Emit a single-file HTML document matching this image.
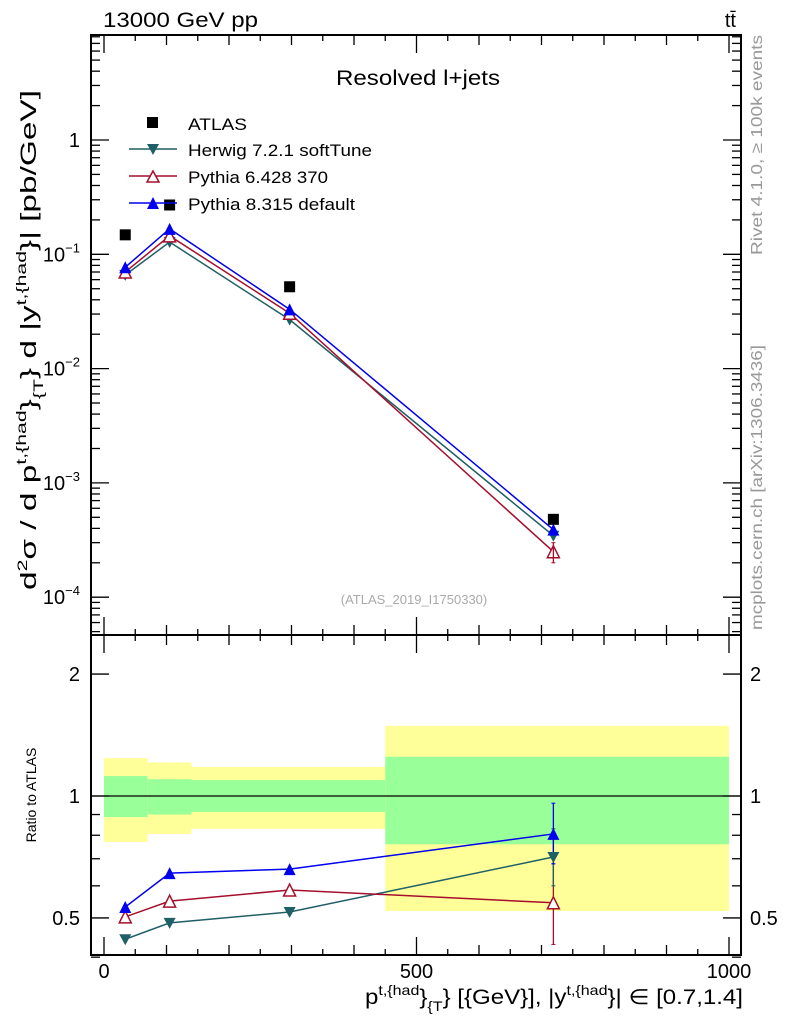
<!DOCTYPE html>
<html><head><meta charset="utf-8"><style>
html,body{margin:0;padding:0;background:#fff}
svg{display:block;font-family:"Liberation Sans",sans-serif}
</style></head><body>
<svg id="c" width="786" height="1024" viewBox="0 0 786 1024" xmlns="http://www.w3.org/2000/svg">
<g id="bands"></g>
<g id="grid"></g>
<g id="marks"></g>
<text x="103" y="27" font-size="21" textLength="155" lengthAdjust="spacingAndGlyphs">13000 GeV pp</text>
<text x="736" y="27" font-size="20" text-anchor="end">tt̄</text>
<text x="336" y="85" font-size="21" textLength="164" lengthAdjust="spacingAndGlyphs">Resolved l+jets</text>
<text x="414" y="604" font-size="13" fill="#aaa" text-anchor="middle">(ATLAS_2019_I1750330)</text>
<text transform="translate(762,255) rotate(-90)" font-size="16" fill="#999" textLength="220" lengthAdjust="spacingAndGlyphs">Rivet 4.1.0, ≥ 100k events</text>
<text transform="translate(762,630) rotate(-90)" font-size="16" fill="#999" textLength="285" lengthAdjust="spacingAndGlyphs">mcplots.cern.ch [arXiv:1306.3436]</text>
<text transform="translate(36,590) rotate(-90)" font-size="22" textLength="500" lengthAdjust="spacingAndGlyphs">d<tspan font-size="14" dy="-9">2</tspan><tspan dy="9">σ / d p</tspan><tspan font-size="14" dy="-10">t,{had</tspan><tspan dy="10">}</tspan><tspan font-size="14" dy="7">{T</tspan><tspan dy="-7">} d |y</tspan><tspan font-size="14" dy="-10">t,{had</tspan><tspan dy="10">}| [pb/GeV]</tspan></text>
<text transform="translate(36,795) rotate(-90)" font-size="14" text-anchor="middle">Ratio to ATLAS</text>
<text x="365" y="1004" font-size="21" textLength="378" lengthAdjust="spacingAndGlyphs">p<tspan font-size="14" dy="-9">t,{had</tspan><tspan dy="9">}</tspan><tspan font-size="14" dy="7">{T</tspan><tspan dy="-7">} [{GeV}], |y</tspan><tspan font-size="14" dy="-9">t,{had</tspan><tspan dy="9">}| ∈ [0.7,1.4]</tspan></text>
<g id="legend">
<rect x="147" y="117" width="11" height="11" fill="#000"/>
<text x="188" y="130" font-size="17" textLength="59" lengthAdjust="spacingAndGlyphs">ATLAS</text>
<line x1="129" y1="149" x2="177" y2="149" stroke="#1f5f66" stroke-width="1.5"/>
<polygon points="147,144 159,144 153,155" fill="#1f5f66"/>
<text x="188" y="156" font-size="17" textLength="184" lengthAdjust="spacingAndGlyphs">Herwig 7.2.1 softTune</text>
<line x1="129" y1="176" x2="177" y2="176" stroke="#a50f2d" stroke-width="1.5"/>
<polygon points="147,182 159,182 153,171" fill="#fff" stroke="#a50f2d" stroke-width="1.5"/>
<text x="188" y="183" font-size="17" textLength="140" lengthAdjust="spacingAndGlyphs">Pythia 6.428 370</text>
<line x1="129" y1="203" x2="177" y2="203" stroke="#0000ee" stroke-width="1.5"/>
<polygon points="147,209 159,209 153,197" fill="#0000ee"/>
<text x="188" y="210" font-size="17" textLength="167" lengthAdjust="spacingAndGlyphs">Pythia 8.315 default</text>
</g>
</svg>
<script>
const binEdges=[0,70,140,450,1000];
const xCenters=[34,105,297,719];
const atlas=[0.148,0.27,0.052,0.00048];
const herwig=[0.066,0.128,0.0268,0.000345];
const pythia6=[0.070,0.145,0.0305,0.00025];
const pythia8=[0.077,0.167,0.033,0.00039];
const ratioHerwig=[0.443,0.486,0.517,0.707];
const ratioPythia6=[0.503,0.55,0.586,0.545];
const ratioPythia8=[0.532,0.645,0.66,0.806];
const bandGreenHi=[1.12,1.10,1.095,1.25];
const bandGreenLo=[0.887,0.90,0.913,0.76];
const bandYellowHi=[1.24,1.21,1.18,1.49];
const bandYellowLo=[0.77,0.806,0.83,0.52];
const errP8Last=[0.68,0.96];
const errP6Last=[0.43,0.68];
const errHwLast=[0.60,0.83];
const xTicks=[0,500,1000];

const NS="http://www.w3.org/2000/svg";
const L=91,R=741,T=35,M=635,B=955;
const X=v=>104+v*0.625;
const Y=v=>140-Math.log10(v)*114.3;
const YR=v=>796-Math.log10(v)*405;
function el(p,t,a){const e=document.createElementNS(NS,t);for(const k in a)e.setAttribute(k,a[k]);p.appendChild(e);return e;}
const bands=document.getElementById('bands'),grid=document.getElementById('grid'),marks=document.getElementById('marks');
for(let i=0;i<4;i++){
 let r=el(bands,'rect',{x:X(binEdges[i]),y:YR(bandYellowHi[i]),width:X(binEdges[i+1])-X(binEdges[i]),height:YR(bandYellowLo[i])-YR(bandYellowHi[i]),fill:'#ffff99'});
 
 
 let g=el(bands,'rect',{x:X(binEdges[i]),y:YR(bandGreenHi[i]),width:X(binEdges[i+1])-X(binEdges[i]),height:YR(bandGreenLo[i])-YR(bandGreenHi[i]),fill:'#99ff99'});
 
 
}
el(grid,'line',{x1:L,x2:R,y1:YR(1),y2:YR(1),stroke:'#000','stroke-width':1.3});
el(grid,'rect',{x:L,y:T,width:R-L,height:M-T,fill:'none',stroke:'#000','stroke-width':2});
el(grid,'rect',{x:L,y:M,width:R-L,height:B-M,fill:'none',stroke:'#000','stroke-width':2});
for(let v=0;v<=1000;v+=50){const x=X(v);const major=v%500===0;const len=major?18:(v%100===0?10:6);
 for(const [y0,d] of [[T,1],[M,-1],[M,1],[B,-1]]) el(grid,'line',{x1:x,x2:x,y1:y0,y2:y0+d*len,stroke:'#000','stroke-width':1.3});}
xTicks.forEach(v=>{const t=el(grid,'text',{x:X(v),y:978,'font-size':20,'text-anchor':'middle'});t.textContent=v;
 
 });
for(let e=-5;e<=1;e++)for(let m=1;m<10;m++){const y=Y(m*Math.pow(10,e));if(y<T||y>M)continue;const len=m===1?18:9;
 el(grid,'line',{x1:L,x2:L+len,y1:y,y2:y,stroke:'#000','stroke-width':1.3});el(grid,'line',{x1:R,x2:R-len,y1:y,y2:y,stroke:'#000','stroke-width':1.3});}
[[1,'1'],[0.1,'-1'],[0.01,'-2'],[0.001,'-3'],[0.0001,'-4']].forEach(([v,e])=>{const t=el(grid,'text',{x:80,y:Y(v)+7,'font-size':20,'text-anchor':'end'});
 if(e==='1')t.textContent='1';else{t.textContent='10';const s=el(t,'tspan',{dy:-9,'font-size':13});s.textContent='−'+e.slice(1);}
 
 });
[0.4,0.5,0.6,0.7,0.8,0.9,1,2].forEach(v=>{const y=YR(v);const len=(v===0.5||v===1||v===2)?18:9;
 el(grid,'line',{x1:L,x2:L+len,y1:y,y2:y,stroke:'#000','stroke-width':1.3});el(grid,'line',{x1:R,x2:R-len,y1:y,y2:y,stroke:'#000','stroke-width':1.3});});
[0.5,1,2].forEach(v=>{for(const [x,a] of [[80,'end'],[750,'start']]){const t=el(grid,'text',{x:x,y:YR(v)+7,'font-size':20,'text-anchor':a});t.textContent=v;
 
 }});
function marker(type,x,y,c){
 if(type==='sq')return el(marks,'rect',{x:x-5.5,y:y-5.5,width:11,height:11,fill:c});
 if(type==='down')return el(marks,'polygon',{points:`${x-6},${y-5} ${x+6},${y-5} ${x},${y+6}`,fill:c});
 if(type==='up')return el(marks,'polygon',{points:`${x-6},${y+6} ${x+6},${y+6} ${x},${y-6}`,fill:c});
 return el(marks,'polygon',{points:`${x-6},${y+6} ${x+6},${y+6} ${x},${y-6}`,fill:'#fff',stroke:c,'stroke-width':1.5});
}
function series(vals,fy,c,type,name){
 el(marks,'polyline',{points:vals.map((v,i)=>X(xCenters[i])+','+fy(v)).join(' '),fill:'none',stroke:c,'stroke-width':1.5});
 vals.forEach((v,i)=>{const m=marker(type,X(xCenters[i]),fy(v),c);
  
  });
}
function err(i,lo,hi,fy,c){const x=X(xCenters[i]);el(marks,'line',{x1:x,x2:x,y1:fy(lo),y2:fy(hi),stroke:c,'stroke-width':1.3});
 el(marks,'line',{x1:x-2,x2:x+2,y1:fy(lo),y2:fy(lo),stroke:c});el(marks,'line',{x1:x-2,x2:x+2,y1:fy(hi),y2:fy(hi),stroke:c});}
series(herwig,Y,'#1f5f66','down','herwig');
series(pythia6,Y,'#a50f2d','open','pythia6');
series(pythia8,Y,'#0000ee','up','pythia8');
err(3,0.0002,0.0003,Y,'#a50f2d');
atlas.forEach((v,i)=>{const m=marker('sq',X(xCenters[i]),Y(v),'#000');
 
 });
err(3,errP6Last[0],errP6Last[1],YR,'#a50f2d');
err(3,errHwLast[0],errHwLast[1],YR,'#1f5f66');
err(3,errP8Last[0],errP8Last[1],YR,'#0000ee');
series(ratioHerwig,YR,'#1f5f66','down','ratio-herwig');
series(ratioPythia6,YR,'#a50f2d','open','ratio-pythia6');
series(ratioPythia8,YR,'#0000ee','up','ratio-pythia8');
</script>
</body></html>
